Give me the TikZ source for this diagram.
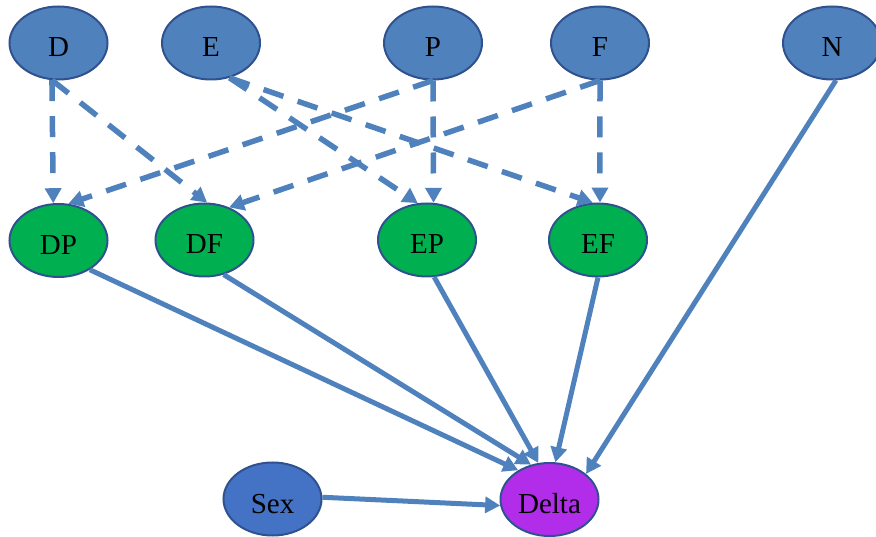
\documentclass[tikz,border=0pt]{standalone}
\usepackage{fontspec}
\setmainfont{Liberation Serif}
\usetikzlibrary{arrows.meta,shapes.geometric}
\definecolor{topblue}{HTML}{4F81BD}
\definecolor{edgeblue}{HTML}{2F528F}
\definecolor{sexblue}{HTML}{4472C4}
\definecolor{nodegreen}{HTML}{00B050}
\definecolor{deltapurple}{HTML}{B22DEA}
\definecolor{arrowblue}{HTML}{4F81BD}
\tikzset{
  ell/.style={ellipse, draw=edgeblue, line width=2pt, minimum width=98pt, minimum height=73pt,
    inner sep=0pt, font=\fontsize{29}{32}\selectfont, text height=28pt, text depth=0pt},
  topnode/.style={ell, fill=topblue},
  midnode/.style={ell, fill=nodegreen},
  sexnode/.style={ell, fill=sexblue},
  deltanode/.style={ell, fill=deltapurple},
  dasharrow/.style={draw=arrowblue, line width=5.5pt, dash pattern=on 21pt off 15pt,
    -{Triangle[length=15pt,width=16pt]}},
  solidarrow/.style={draw=arrowblue, line width=5pt,
    -{Triangle[length=15pt,width=16pt]}}
}
\begin{document}
\begin{tikzpicture}[x=1pt,y=-1pt]
\useasboundingbox (0,0) rectangle (876,537);
% top row
\node[topnode] (D) at (58.5,43) {D};
\node[topnode] (E) at (211,43) {E};
\node[topnode] (P) at (433,43) {P};
\node[topnode] (F) at (600,43) {F};
\node[topnode] (N) at (832,43) {N};
% middle row
\node[midnode] (DP) at (58.5,240.5) {DP};
\node[midnode] (DF) at (204.5,240) {DF};
\node[midnode] (EP) at (427,240) {EP};
\node[midnode] (EF) at (598,240) {EF};
% bottom row
\node[sexnode] (Sex) at (272.5,499) {Sex};
\node[deltanode] (Delta) at (549.5,499.5) {Delta};
% dashed connectors
\draw[dasharrow] (D.260) -- (DP.98);
\draw[dasharrow] (D.260) -- (DF.86);
\draw[dasharrow] (E.298) -- (EP.104);
\draw[dasharrow] (E.298) -- (EF.98);
\draw[dasharrow] (P.270) -- (DP.75);
\draw[dasharrow] (P.270) -- (EP.80);
\draw[dasharrow] (F.270) -- (DF.53);
\draw[dasharrow] (F.270) -- (EF.87);
% solid connectors
\draw[solidarrow] (DP.-43) -- (Delta.137);
\draw[solidarrow] (DF.-61) -- (Delta.118);
\draw[solidarrow] (EP.-79) -- (Delta.107);
\draw[solidarrow] (EF.270) -- (Delta.81);
\draw[solidarrow] (N.276) -- (Delta.35);
\draw[solidarrow] (Sex.2) -- (Delta.187);
\end{tikzpicture}
\end{document}
